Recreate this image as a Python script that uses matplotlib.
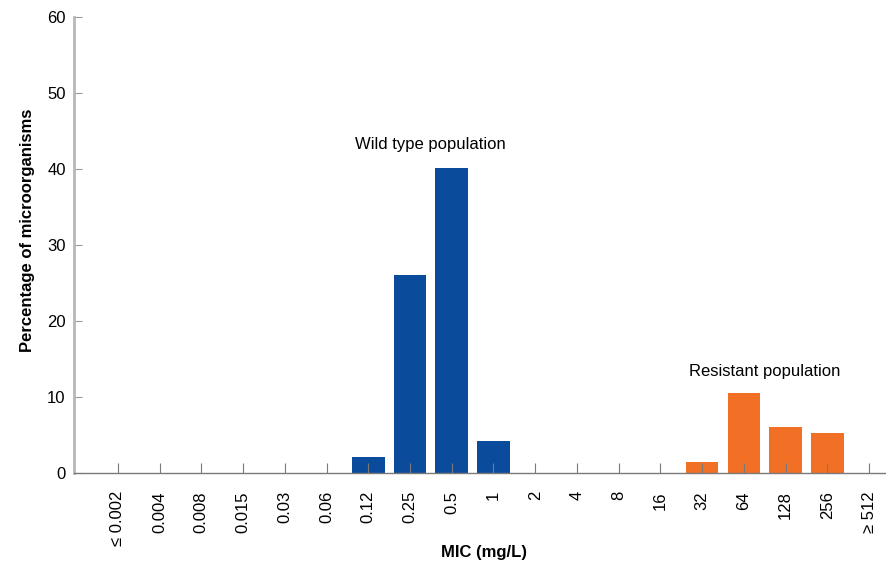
import matplotlib.pyplot as plt

plt.rcParams['font.family'] = ['Liberation Sans', 'DejaVu Sans']

# MIC categories and percentage of microorganisms
mic_labels = ['≤ 0.002', '0.004', '0.008', '0.015', '0.03', '0.06', '0.12', '0.25',
              '0.5', '1', '2', '4', '8', '16', '32', '64', '128', '256', '≥ 512']
wild_type = [0, 0, 0, 0, 0, 0, 2.1, 26, 40.1, 4.2, 0, 0, 0, 0, 0, 0, 0, 0, 0]
resistant = [0, 0, 0, 0, 0, 0, 0, 0, 0, 0, 0, 0, 0, 0, 1.4, 10.5, 6.1, 5.3, 0]

blue = '#0b4b9c'
orange = '#f26f26'

fig = plt.figure(figsize=(8.87, 5.62), dpi=100)
ax = fig.add_axes([74 / 887, 1 - 473 / 562, 811 / 887, 456 / 562])

x = list(range(len(mic_labels)))
ax.bar(x, wild_type, width=0.78, color=blue)
ax.bar(x, resistant, width=0.78, color=orange)

ax.set_xlim(-1.05, 18.38)
ax.set_ylim(0, 60)
ax.set_yticks([0, 10, 20, 30, 40, 50, 60])
ax.set_xticks(x)
ax.set_xticklabels(mic_labels, rotation=90, va='top', ha='center')

ax.spines['top'].set_visible(False)
ax.spines['right'].set_visible(False)
ax.spines['left'].set_color('#b8b8b8')
ax.spines['left'].set_linewidth(2)
ax.spines['bottom'].set_color('#7a7a7a')
ax.spines['bottom'].set_linewidth(1)

ax.tick_params(axis='y', direction='in', length=6, color='#9a9a9a', labelsize=12, pad=6)
ax.tick_params(axis='x', direction='in', length=7, color='#7a7a7a', labelsize=12, pad=13)

ax.set_ylabel('Percentage of microorganisms', fontsize=12, fontweight='bold')
ax.yaxis.set_label_coords(-0.048, 0.533)
ax.set_xlabel('MIC (mg/L)', fontsize=12, fontweight='bold')
ax.xaxis.set_label_coords(0.505, -0.157)

ax.text(7.5, 43.2, 'Wild type population', ha='center', va='center', fontsize=12)
ax.text(15.5, 13.3, 'Resistant population', ha='center', va='center', fontsize=12)

fig.savefig('out.png', dpi=100, facecolor='white')
